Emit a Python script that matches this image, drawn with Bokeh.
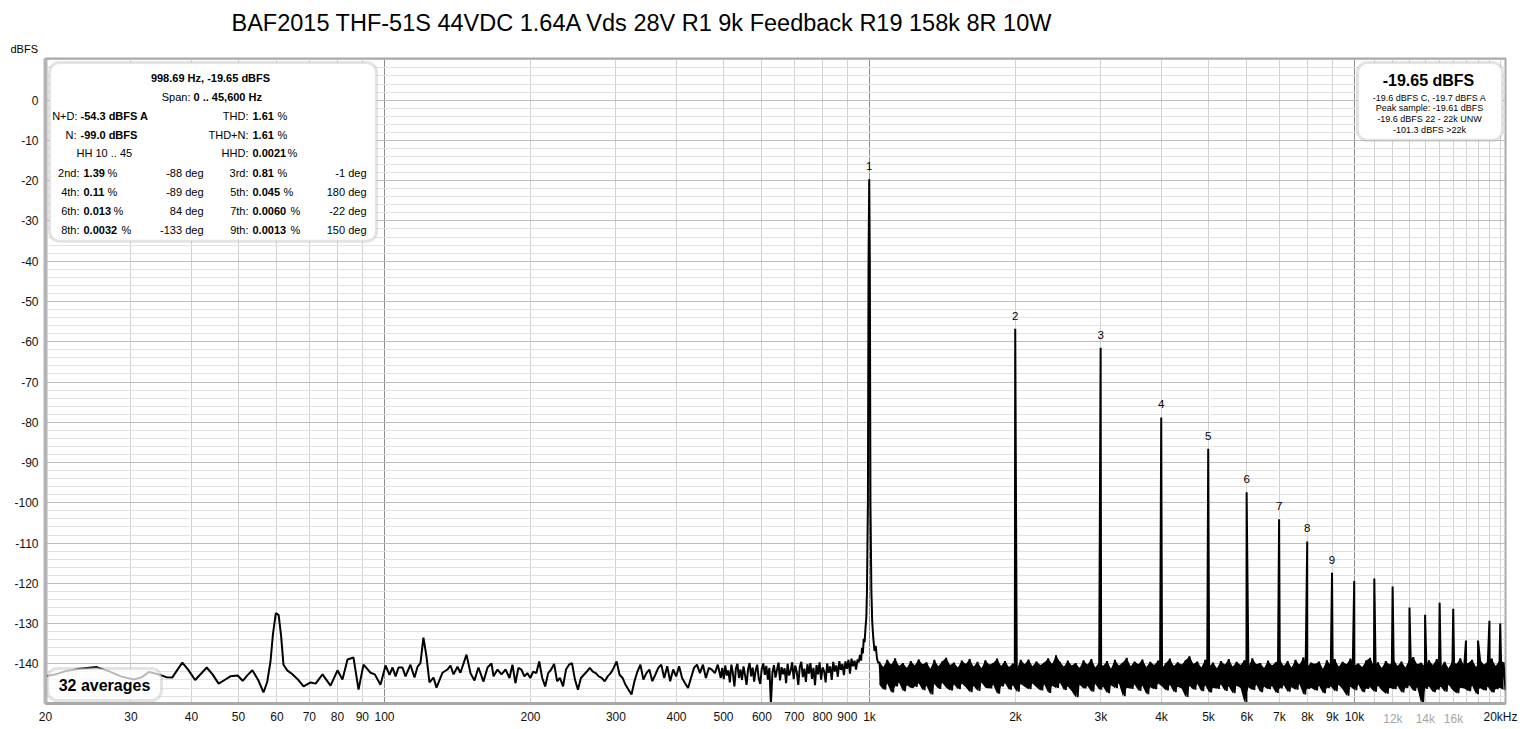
import numpy as np
from bokeh.plotting import figure
from bokeh.models import (ColumnDataSource, FixedTicker, Label, LabelSet,
                          BoxAnnotation, Range1d, Title, LogAxis)
from bokeh.core.properties import value
from bokeh.embed import file_html
from bokeh.resources import INLINE

# ---------------- data ----------------
title_text = "BAF2015 THF-51S 44VDC 1.64A Vds 28V R1 9k Feedback R19 158k 8R 10W"
y_unit = "dBFS"

# low band: (Hz, dBFS)
low_band = [
    (20.0, -143.1), (21.0, -142.6), (22.0, -141.8), (23.5, -141.2), (25.5, -140.8),
    (27.0, -141.8), (28.6, -143.1), (30.4, -143.9), (31.5, -143.4), (32.7, -142.0),
    (34.0, -142.5), (35.5, -143.3), (36.5, -143.4), (37.4, -141.5), (38.3, -139.7),
    (39.4, -141.5), (40.7, -144.0), (41.8, -142.5), (43.0, -140.9), (44.2, -142.6),
    (45.5, -144.9), (46.8, -144.0), (48.1, -143.1), (49.8, -142.9), (51.0, -144.2),
    (52.2, -142.8), (53.4, -141.6), (54.9, -144.0), (56.3, -147.1), (57.3, -144.5),
    (58.2, -139.4), (58.9, -132.5), (59.7, -127.4), (60.5, -127.9), (61.2, -133.0),
    (61.9, -140.2), (63.0, -141.6), (64.5, -142.5), (66.2, -143.8), (68.1, -145.6),
    (70.4, -144.6), (72.1, -144.9), (74.5, -142.6), (77.4, -145.4), (80.0, -141.6),
    (81.9, -143.9), (83.9, -138.9), (86.3, -138.4), (88.4, -146.4), (90.5, -140.2),
    (93.6, -142.2), (95.5, -142.6), (98.1, -145.2), (100.5, -140.4), (102.4, -142.7),
    (103.9, -140.9), (105.4, -143.1), (106.9, -140.9), (108.9, -140.9), (110.5, -143.1),
    (113.1, -140.2), (115.3, -143.4), (117.0, -140.7), (118.6, -139.8), (120.3, -133.5),
    (122.0, -138.0), (123.8, -144.6), (126.2, -143.4), (128.0, -145.9), (131.7, -142.2),
    (134.8, -141.4), (136.8, -140.4), (138.8, -142.6), (141.4, -140.7), (143.4, -142.2),
    (147.6, -137.7), (150.5, -142.4), (153.3, -144.1), (156.2, -140.9), (160.0, -144.4),
    (163.1, -140.9), (166.2, -139.9), (167.8, -143.1), (171.0, -141.4), (174.3, -142.6),
    (177.7, -141.4),
]

# mid band 181 Hz .. 494 Hz, levels on log-spaced bins
mid_start_hz, mid_stop_hz = 181.0, 493.6
mid_db = [
    -143.5, -140.2, -144.8, -141.0, -141.4, -143.1, -142.3, -143.5, -141.9, -142.3,
    -139.4, -143.5, -145.6, -142.3, -141.4, -140.0, -144.3, -143.5, -145.6, -141.4,
    -140.2, -139.8, -143.9, -146.4, -143.5, -142.7, -141.9, -141.0, -141.9, -142.3,
    -143.1, -143.5, -144.3, -143.1, -142.3, -141.0, -139.4, -142.7, -143.5, -145.2,
    -146.4, -147.6, -144.3, -141.9, -140.2, -143.9, -142.3, -141.4, -144.3, -142.7,
    -141.0, -140.2, -143.5, -140.6, -144.3, -141.4, -143.1, -140.6, -143.5, -144.8,
    -146.0, -143.5, -141.0, -140.2, -142.3, -140.2, -143.5, -141.0, -141.4, -142.3,
    -140.2, -143.5,
]

# upper mid band 497 Hz .. 945 Hz (denser bins)
umid_start_hz, umid_stop_hz = 497.0, 945.0
umid_db = [
    -141.0, -143.8, -140.4, -142.9, -141.6, -144.6, -140.2, -142.3, -145.6, -141.1,
    -140.0, -143.5, -141.4, -144.0, -140.6, -142.8, -145.2, -141.3, -139.8, -143.1,
    -140.9, -144.4, -141.6, -140.2, -143.6, -145.0, -141.2, -139.9, -142.7, -140.5,
    -143.9, -141.0, -150.0, -142.2, -140.3, -143.4, -141.5, -139.7, -144.1, -140.8,
    -142.6, -141.1, -144.8, -140.0, -142.9, -141.7, -139.6, -143.8, -140.4, -142.0,
    -145.2, -140.7, -139.5, -143.3, -141.2, -144.5, -140.1, -142.4, -139.8, -143.7,
    -141.0, -145.3, -140.3, -142.6, -139.6, -143.9, -140.9, -141.8, -144.6, -139.9,
    -142.2, -140.6, -144.0, -139.5, -141.9, -140.4, -143.2, -139.3, -141.5, -140.0,
    -142.8, -139.4, -141.2, -139.0, -142.4, -138.7, -140.6, -139.2, -141.4, -138.9,
]

# fundamental and its skirt: (Hz, dBFS)
fundamental_hz = 998.69
fundamental_db = -19.65
skirt = [
    (950.0, -139.6), (956.0, -137.8), (961.0, -139.2), (965.0, -136.0), (969.0, -137.4),
    (973.0, -133.8), (977.0, -134.6), (981.0, -131.2), (985.0, -128.5), (988.0, -122.0),
    (992.5, -100.0), (995.5, -40.0), (1001.5, -40.0), (1004.5, -100.0), (1009.0, -122.0),
    (1013.0, -129.5), (1018.0, -133.5), (1024.0, -136.8), (1030.0, -135.5), (1036.0, -138.6),
    (1042.0, -139.8),
]

# harmonics 2..20
harm_order = list(range(2, 21))
harm_db = [-56.8, -61.5, -78.8, -86.6, -97.4, -104.1, -109.6, -117.4, -119.4, -118.8,
           -120.8, -126.0, -127.8, -124.8, -126.3, -134.2, -134.2, -129.3, -130.0]
peak_marks = ["1", "2", "3", "4", "5", "6", "7", "8", "9"]

# high band noise floor 1048 Hz .. 20.48 kHz: upper / lower extremes per bin pair
hf_start_hz, hf_stop_hz = 1048.0, 20480.0
hf_hi = [
    -139.5, -140.8, -139.0, -140.2, -138.6, -140.5, -139.8, -141.0, -139.3, -140.4,
    -138.9, -140.1, -139.6, -141.2, -139.0, -140.6, -139.4, -138.5, -140.3, -139.7,
    -140.9, -139.2, -140.0, -138.8, -140.7, -139.5, -141.1, -139.1, -140.2, -139.8,
    -138.7, -140.5, -139.3, -140.8, -139.9, -141.3, -139.0, -140.1, -138.9, -140.6,
    -139.4, -140.3, -139.7, -138.6, -140.0, -137.9, -139.5, -140.7, -139.2, -140.4,
    -139.8, -141.0, -139.1, -140.2, -138.8, -140.9, -139.6, -140.5, -139.3, -141.2,
    -139.0, -140.4, -139.7, -138.5, -140.6, -139.4, -140.1, -138.9, -140.8, -139.5,
    -140.3, -139.2, -141.0, -139.8, -138.7, -140.5, -139.6, -140.2, -139.1, -138.1,
    -140.0, -139.4, -140.9, -139.0, -140.6, -139.7, -141.1, -139.3, -140.2, -138.8,
    -140.7, -139.5, -140.3, -139.1, -140.8, -138.6, -140.1, -139.8, -141.0, -139.2,
    -140.4, -139.6, -138.9, -140.5, -139.3, -140.9, -139.0, -140.2, -138.4, -140.6,
    -139.7, -140.0, -139.4, -141.2, -139.1, -140.3, -138.8, -140.7, -139.5, -140.1,
    -138.7, -140.4, -139.9, -140.8, -139.2, -138.5, -140.6, -139.6, -141.0, -139.3,
    -140.2, -138.9, -140.5, -139.4, -140.9, -139.0, -138.3, -140.1, -139.7, -140.6,
    -139.1, -140.3, -138.8, -140.7, -139.5, -141.1, -139.2, -140.0, -138.6, -140.4,
    -139.8, -139.0, -140.8, -138.9, -140.2, -139.4, -138.7, -140.5, -139.1, -139.6,
]
hf_lo = [
    -145.2, -146.4, -144.9, -147.1, -145.6, -144.6, -146.8, -145.3, -146.0, -145.7,
    -144.8, -146.5, -145.4, -147.6, -145.0, -146.2, -144.7, -145.9, -146.6, -145.1,
    -146.3, -144.9, -145.8, -147.0, -145.5, -146.7, -144.6, -145.9, -146.1, -145.2,
    -147.4, -145.6, -144.8, -146.4, -145.3, -146.9, -145.0, -145.7, -146.3, -144.9,
    -145.8, -146.6, -145.1, -147.2, -145.4, -146.0, -144.7, -146.5, -145.6, -146.8,
    -148.3, -145.2, -146.1, -145.5, -146.9, -145.0, -146.4, -145.7, -147.3, -145.3,
    -146.0, -144.8, -148.0, -145.9, -146.2, -145.1, -146.7, -145.4, -147.5, -145.8,
    -146.3, -144.9, -145.6, -146.6, -145.2, -147.0, -145.7, -146.1, -148.2, -145.5,
    -146.4, -145.0, -146.8, -145.3, -147.1, -145.9, -146.2, -145.1, -146.7, -145.6,
    -147.3, -145.4, -146.0, -149.6, -145.8, -146.5, -145.2, -147.0, -145.7, -146.3,
    -145.5, -147.2, -146.1, -145.3, -146.9, -145.8, -146.4, -145.0, -147.6, -146.2,
    -145.9, -146.6, -145.4, -147.3, -146.0, -145.6, -146.8, -145.2, -146.3, -147.9,
    -145.7, -146.5, -145.1, -147.0, -146.2, -145.8, -146.9, -145.4, -146.6, -147.4,
    -145.9, -146.3, -145.5, -147.1, -146.0, -145.3, -146.7, -145.8, -149.8, -146.2,
    -145.6, -147.0, -146.4, -145.7, -146.9, -145.2, -146.5, -147.3, -145.9, -146.1,
    -146.8, -145.4, -147.5, -146.0, -146.6, -145.7, -147.1, -146.3, -145.9, -146.5,
]

# axes
x_tick_values = [20, 30, 40, 50, 60, 70, 80, 90, 100, 200, 300, 400, 500, 600, 700,
                 800, 900, 1000, 2000, 3000, 4000, 5000, 6000, 7000, 8000, 9000,
                 10000, 20000]
x_tick_labels = ["20", "30", "40", "50", "60", "70", "80", "90", "100", "200", "300",
                 "400", "500", "600", "700", "800", "900", "1k", "2k", "3k", "4k",
                 "5k", "6k", "7k", "8k", "9k", "10k", "20kHz"]
x_minor_label_values = [12000, 14000, 16000]
x_minor_labels = ["12k", "14k", "16k"]
y_tick_values = list(range(-140, 1, 10))

# ---------------- assemble trace ----------------
low_f = [p[0] for p in low_band]
low_d = [p[1] for p in low_band]
mid_f = np.geomspace(mid_start_hz, mid_stop_hz, len(mid_db))
umid_f = np.geomspace(umid_start_hz, umid_stop_hz, len(umid_db))
sk_f = [p[0] for p in skirt] + [fundamental_hz]
sk_d = [p[1] for p in skirt] + [fundamental_db]
hf_f = np.geomspace(hf_start_hz, hf_stop_hz, 2 * len(hf_hi))
hf_d = np.empty(2 * len(hf_hi))
hf_d[0::2] = hf_hi
hf_d[1::2] = hf_lo
harm_f = np.array(harm_order, dtype=float) * fundamental_hz

freq = np.concatenate([low_f, mid_f, umid_f, sk_f, hf_f, harm_f])
dbfs = np.concatenate([low_d, mid_db, umid_db, sk_d, hf_d, harm_db])
order = np.argsort(freq, kind="stable")
src = ColumnDataSource(dict(f=freq[order], d=dbfs[order]))
band_src = ColumnDataSource(dict(f=hf_f[0::2], hi=hf_hi, lo=hf_lo))

# ---------------- layout (screenshot pixels -> data) ----------------
FL, FR, FT, FB = 45, 1505, 58, 704      # frame edges in page pixels
W, H = 1526, 728


def fx(px):
    return 20.0 * 10 ** ((px - FL) / 485.0)


def fy(py):
    return (99.7 - py) / 4.033


FONT = "Liberation Sans"

p = figure(width=W, height=H, x_axis_type="log",
           x_range=Range1d(20, fx(FR)), y_range=Range1d(fy(FB), fy(FT)),
           output_backend="svg", toolbar_location=None,
           min_border_left=FL, min_border_right=W - FR, min_border_top=FT,
           min_border_bottom=H - FB, background_fill_color="white",
           border_fill_color="white")
p.outline_line_color = "#a8a8a8"
p.outline_line_width = 2

# unit label (nearest to the frame) and main title above it
p.add_layout(Title(text=y_unit, align="left", offset=10 - FL, standoff=7,
                   text_font=FONT, text_font_size="11px", text_font_style="normal",
                   text_color="black"), "above")
p.add_layout(Title(text=title_text, align="left", offset=231 - FL, standoff=4,
                   text_font=FONT, text_font_size="23.5px", text_font_style="normal",
                   text_color="black"), "above")

# grids
minor_x = ([30, 40, 50, 60, 70, 80, 90] + [200, 300, 400, 500, 600, 700, 800, 900] +
           [2000, 3000, 4000, 5000, 6000, 7000, 8000, 9000] +
           [11000, 12000, 13000, 14000, 15000, 16000, 17000, 18000, 19000, 20000])
p.xgrid.ticker = FixedTicker(ticks=[100, 1000, 10000], minor_ticks=minor_x)
p.xgrid.grid_line_color = "#8c8c8c"
p.xgrid.minor_grid_line_color = "#d2d2d2"
p.ygrid.ticker = FixedTicker(ticks=list(range(-140, 11, 10)),
                             minor_ticks=[v for v in range(-148, 11, 2) if v % 10 != 0])
p.ygrid.grid_line_color = "#bdbdbd"
p.ygrid.minor_grid_line_color = "#e2e2e2"

# axes
p.xaxis.ticker = FixedTicker(ticks=x_tick_values)
p.xaxis.major_label_overrides = {v: s for v, s in zip(x_tick_values, x_tick_labels)}
p.yaxis.ticker = FixedTicker(ticks=y_tick_values)
p.yaxis.major_label_overrides = {v: str(v) for v in y_tick_values}
for ax in (p.xaxis, p.yaxis):
    ax.major_tick_line_color = None
    ax.minor_tick_line_color = None
    ax.major_tick_out = 0
    ax.major_tick_in = 0
    ax.minor_tick_out = 0
    ax.minor_tick_in = 0
    ax.major_label_text_font = FONT
    ax.major_label_text_font_size = "12px"
    ax.major_label_text_color = "#111111"
p.xaxis.axis_line_color = "#a8a8a8"
p.xaxis.axis_line_width = 3
p.yaxis.axis_line_color = "#b4b4b4"
p.yaxis.axis_line_width = 4
p.xaxis.major_label_standoff = 6
p.yaxis.major_label_standoff = 7

# grey secondary labels, drawn on the same row as the main x labels
gray_axis = LogAxis(ticker=FixedTicker(ticks=x_minor_label_values),
                    major_label_overrides={v: s for v, s in zip(x_minor_label_values, x_minor_labels)},
                    major_label_text_color="#a6a6a6", major_label_text_font=FONT,
                    major_label_text_font_size="12px", major_label_standoff=-15,
                    axis_line_color=None, major_tick_line_color=None,
                    minor_tick_line_color=None, major_tick_out=0, major_tick_in=0,
                    minor_tick_out=0, minor_tick_in=0)
p.add_layout(gray_axis, "below")

# spectrum: dense noise band + trace
p.varea(x="f", y1="lo", y2="hi", source=band_src, fill_color="black")
p.line("f", "d", source=src, line_color="black", line_width=2)

# harmonic numbers
pk_src = ColumnDataSource(dict(
    f=[fundamental_hz] + list(harm_f[:8]),
    d=[fundamental_db] + list(harm_db[:8]),
    t=peak_marks))
p.add_layout(LabelSet(x="f", y="d", text="t", source=pk_src, y_offset=9,
                      text_align="center", text_baseline="bottom",
                      text_font=value(FONT), text_font_size=value("11.5px"),
                      text_color="black"))


def lab(px, py, text, bold=False, align="left", size="11px", color="black"):
    p.add_layout(Label(x=fx(px), y=fy(py), text=text, text_align=align,
                       text_baseline="middle", text_font=FONT,
                       text_font_size=size, text_color=color,
                       text_font_style="bold" if bold else "normal"))


# boxes
def box(x0, y0, x1, y1, alpha=1.0):
    p.add_layout(BoxAnnotation(left=fx(x0), right=fx(x1), top=fy(y0), bottom=fy(y1),
                               fill_color="white", fill_alpha=alpha,
                               line_color="#a3a3a3", line_width=3, border_radius=10))


box(49, 62, 376, 241)
box(1357, 62, 1502, 140)
box(47, 669, 161, 701, alpha=0.72)

# info box text
lab(210, 78, "998.69 Hz, -19.65 dBFS", bold=True, align="center")
lab(190, 97, "Span:", align="right")
lab(193, 97, "0 .. 45,600 Hz", bold=True)
lab(77, 116, "N+D:", align="right"); lab(80, 116, "-54.3 dBFS A", bold=True)
lab(76, 135, "N:", align="right"); lab(80, 135, "-99.0 dBFS", bold=True)
lab(76, 153, "HH 10 .. 45")
lab(248, 116, "THD:", align="right"); lab(252, 116, "1.61", bold=True); lab(277, 116, "%")
lab(248, 135, "THD+N:", align="right"); lab(252, 135, "1.61", bold=True); lab(277, 135, "%")
lab(248, 153, "HHD:", align="right"); lab(252, 153, "0.0021", bold=True); lab(287, 153, "%")

harm_rows = [
    (173, "2nd:", "1.39", 107, "-88 deg", "3rd:", "0.81", 277, "-1 deg"),
    (192, "4th:", "0.11", 107, "-89 deg", "5th:", "0.045", 283, "180 deg"),
    (211, "6th:", "0.013", 113, "84 deg", "7th:", "0.0060", 290, "-22 deg"),
    (230, "8th:", "0.0032", 121, "-133 deg", "9th:", "0.0013", 290, "150 deg"),
]
for (yy, n1, v1, pc1, d1, n2, v2, pc2, d2) in harm_rows:
    lab(79, yy, n1, align="right"); lab(83, yy, v1, bold=True); lab(pc1, yy, "%")
    lab(203, yy, d1, align="right")
    lab(248, yy, n2, align="right"); lab(252, yy, v2, bold=True); lab(pc2, yy, "%")
    lab(366, yy, d2, align="right")

# level box text
lab(1428, 80, "-19.65 dBFS", bold=True, align="center", size="16px")
lab(1429, 98, "-19.6 dBFS C, -19.7 dBFS A", align="center", size="9px")
lab(1429, 108, "Peak sample: -19.61 dBFS", align="center", size="9px")
lab(1429, 119, "-19.6 dBFS 22 - 22k UNW", align="center", size="9px")
lab(1429, 130, "-101.3 dBFS >22k", align="center", size="9px")

# averages box
lab(104, 686, "32 averages", bold=True, align="center", size="16px")

open("out.html", "w").write(file_html(p, INLINE))
